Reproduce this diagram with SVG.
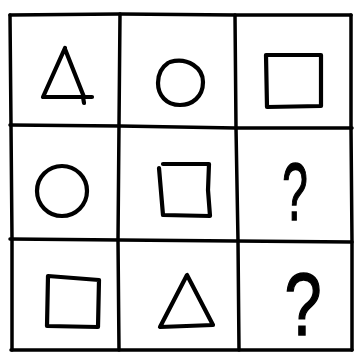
<svg xmlns="http://www.w3.org/2000/svg" width="355" height="353" viewBox="0 0 355 353">
<style>
.g{fill:none;stroke:#000;stroke-width:3.5;stroke-linecap:round;stroke-linejoin:round}
.s{fill:none;stroke:#000;stroke-width:4.2;stroke-linecap:round;stroke-linejoin:round}
.q{font-family:"Liberation Sans",Arial,sans-serif;fill:#000;stroke:#000;stroke-width:1.5;text-anchor:middle}
</style>
<rect width="355" height="353" fill="#fff"/>
<g id="grid">
<path class="g" d="M10,15 L120,14 L236,15 L351,15"/>
<path class="g" d="M10,125 L120,126 L236,128 L352,128"/>
<path class="g" d="M10,239 L120,240 L236,241 L352,242"/>
<path class="g" d="M11,350 L120,350 L236,350 L352,350"/>
<path class="g" d="M10,15 L11,125 L12,239 L12,350"/>
<path class="g" d="M120,14 L119,125 L118,240 L119,350"/>
<path class="g" d="M235,15 L236,128 L238,241 L239,350"/>
<path class="g" d="M351,15 L351,128 L352,242 L352,350"/>
</g>
<g id="r1c1"><path class="s" d="M65,48 L43,97 L92,97 M65,49 L84,97 M83,97 L84,103"/></g>
<g id="r1c2"><path class="s" d="M170,62 C188,57 203,68 203,82 C203,97 192,105 180,105 C166,105 158,95 158,83 C158,74 162,67 168,63"/></g>
<g id="r1c3"><path class="s" d="M266,55 L321,55 L321,106 L267,107 Z"/></g>
<g id="r2c1"><circle class="s" cx="62" cy="191" r="25"/></g>
<g id="r2c2"><path class="s" d="M163,164 L209,164 L208,190 L210,216 L163,215 L159,168"/></g>
<g id="r2c3"><text class="q" transform="translate(295,220) scale(0.56,1)" font-size="82">?</text></g>
<g id="r3c1"><path class="s" d="M48,276 L99,280 L98,327 L47,326 Z"/></g>
<g id="r3c2"><path class="s" d="M187,275 L160,327 L213,325 Z"/></g>
<g id="r3c3"><text class="q" transform="translate(303,335) scale(0.75,1)" font-size="89">?</text></g>
</svg>
